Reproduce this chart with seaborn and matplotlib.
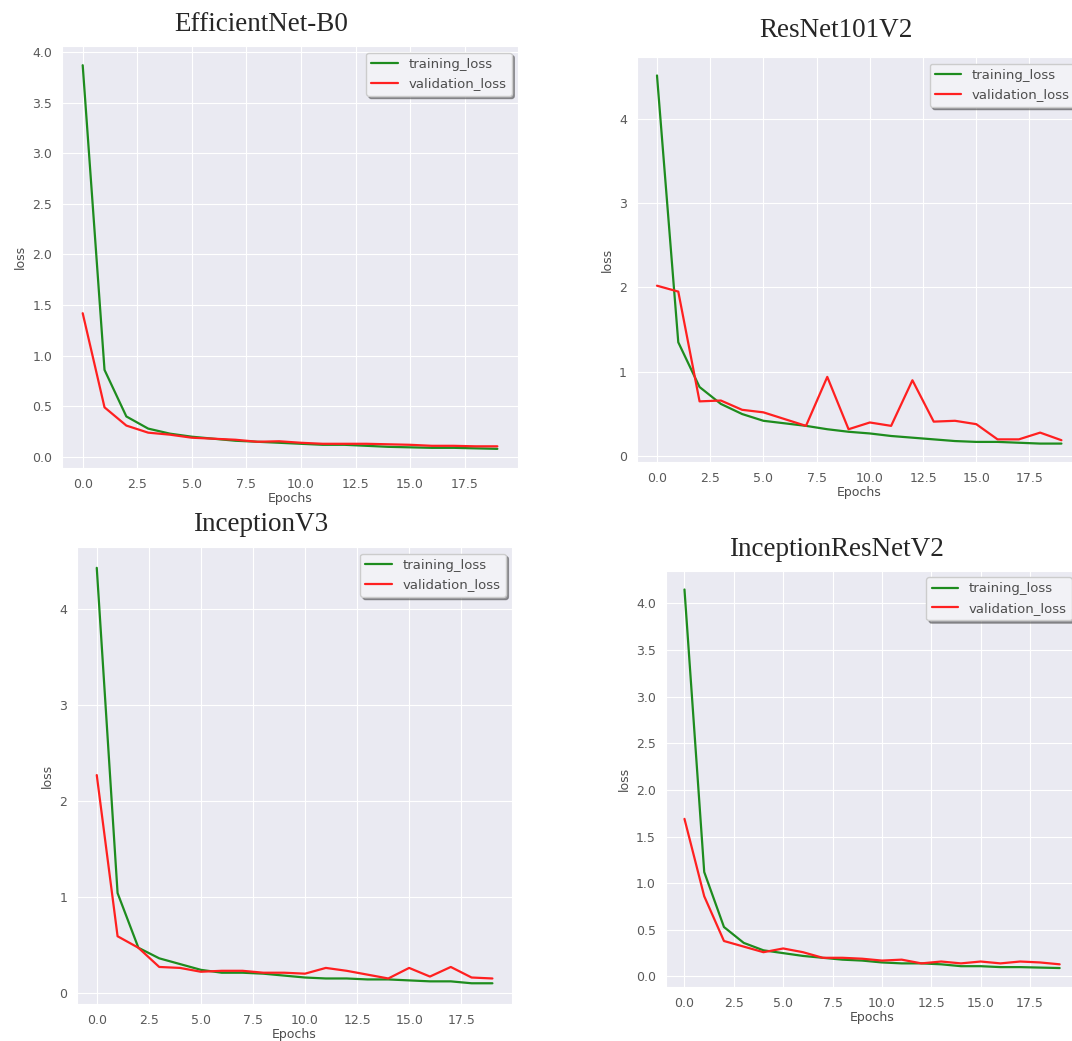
import numpy as np
import pandas as pd
import seaborn as sns
from matplotlib import pyplot as plt
from matplotlib.ticker import MultipleLocator

# loss curves (20 epochs each)
epochs = list(range(20))

effnet_train = [3.87, 0.86, 0.40, 0.28, 0.23, 0.20, 0.18, 0.16, 0.15, 0.14,
                0.13, 0.12, 0.12, 0.11, 0.10, 0.095, 0.09, 0.09, 0.085, 0.08]
effnet_val = [1.42, 0.49, 0.31, 0.24, 0.22, 0.19, 0.18, 0.17, 0.15, 0.155,
              0.14, 0.13, 0.13, 0.13, 0.125, 0.12, 0.11, 0.11, 0.105, 0.105]

resnet_train = [4.51, 1.35, 0.82, 0.62, 0.50, 0.42, 0.39, 0.36, 0.32, 0.29,
                0.27, 0.24, 0.22, 0.20, 0.18, 0.17, 0.17, 0.16, 0.15, 0.15]
resnet_val = [2.02, 1.95, 0.65, 0.66, 0.55, 0.52, 0.44, 0.36, 0.94, 0.32,
              0.40, 0.36, 0.90, 0.41, 0.42, 0.38, 0.20, 0.20, 0.28, 0.19]

incv3_train = [4.43, 1.04, 0.47, 0.36, 0.30, 0.24, 0.21, 0.21, 0.20, 0.18,
               0.16, 0.15, 0.15, 0.14, 0.14, 0.13, 0.12, 0.12, 0.10, 0.10]
incv3_val = [2.27, 0.59, 0.47, 0.27, 0.26, 0.22, 0.23, 0.23, 0.21, 0.21,
             0.20, 0.26, 0.23, 0.19, 0.15, 0.26, 0.17, 0.27, 0.16, 0.15]

incres_train = [4.15, 1.12, 0.53, 0.36, 0.28, 0.25, 0.22, 0.20, 0.18, 0.17,
                0.15, 0.14, 0.14, 0.13, 0.11, 0.11, 0.10, 0.10, 0.095, 0.09]
incres_val = [1.69, 0.86, 0.38, 0.32, 0.26, 0.30, 0.26, 0.20, 0.20, 0.19,
              0.17, 0.18, 0.14, 0.16, 0.14, 0.16, 0.14, 0.16, 0.15, 0.13]

titles = ['EfficientNet-B0', 'ResNet101V2', 'InceptionV3', 'InceptionResNetV2']

sns.set_style('darkgrid')

fig = plt.figure(figsize=(10.72, 10.41), dpi=100)

# axes boxes [left, bottom, width, height] - panels are not aligned in the original
boxes = [[0.0578, 0.5504, 0.4255, 0.4054],
         [0.594, 0.5562, 0.415, 0.389],
         [0.0718, 0.0355, 0.406, 0.439],
         [0.621, 0.0519, 0.385, 0.400]]
title_pos = [(0.244, 0.976), (0.780, 0.971), (0.243, 0.496), (0.780, 0.472)]
ysteps = [0.5, 1, 1, 0.5]

panels = [(effnet_train, effnet_val), (resnet_train, resnet_val),
          (incv3_train, incv3_val), (incres_train, incres_val)]

for i, (tr, va) in enumerate(panels):
    ax = fig.add_axes(boxes[i])
    df = pd.DataFrame({'epoch': epochs, 'training_loss': tr, 'validation_loss': va})
    sns.lineplot(x='epoch', y='training_loss', data=df, ax=ax, color='#1e8c1e',
                 label='training_loss', linewidth=1.6)
    sns.lineplot(x='epoch', y='validation_loss', data=df, ax=ax, color='#ff2020',
                 label='validation_loss', linewidth=1.6)
    ax.yaxis.set_major_locator(MultipleLocator(ysteps[i]))
    ax.xaxis.set_major_locator(MultipleLocator(2.5))
    ax.set_xlabel('Epochs', fontsize=9, labelpad=1, color='0.3')
    ax.set_ylabel('loss', fontsize=9, color='0.3')
    ax.tick_params(labelsize=9, colors='0.35')
    leg = ax.legend(loc='upper right', fontsize=9.5, shadow=True, frameon=True,
                    facecolor='#f2f2f6', edgecolor='0.8', framealpha=1)
    for t in leg.get_texts():
        t.set_color('0.3')
    fig.text(title_pos[i][0], title_pos[i][1], titles[i], ha='center', va='center',
             fontsize=19.5, family=['Liberation Serif', 'DejaVu Serif'])

plt.savefig('out.png', dpi=100)
